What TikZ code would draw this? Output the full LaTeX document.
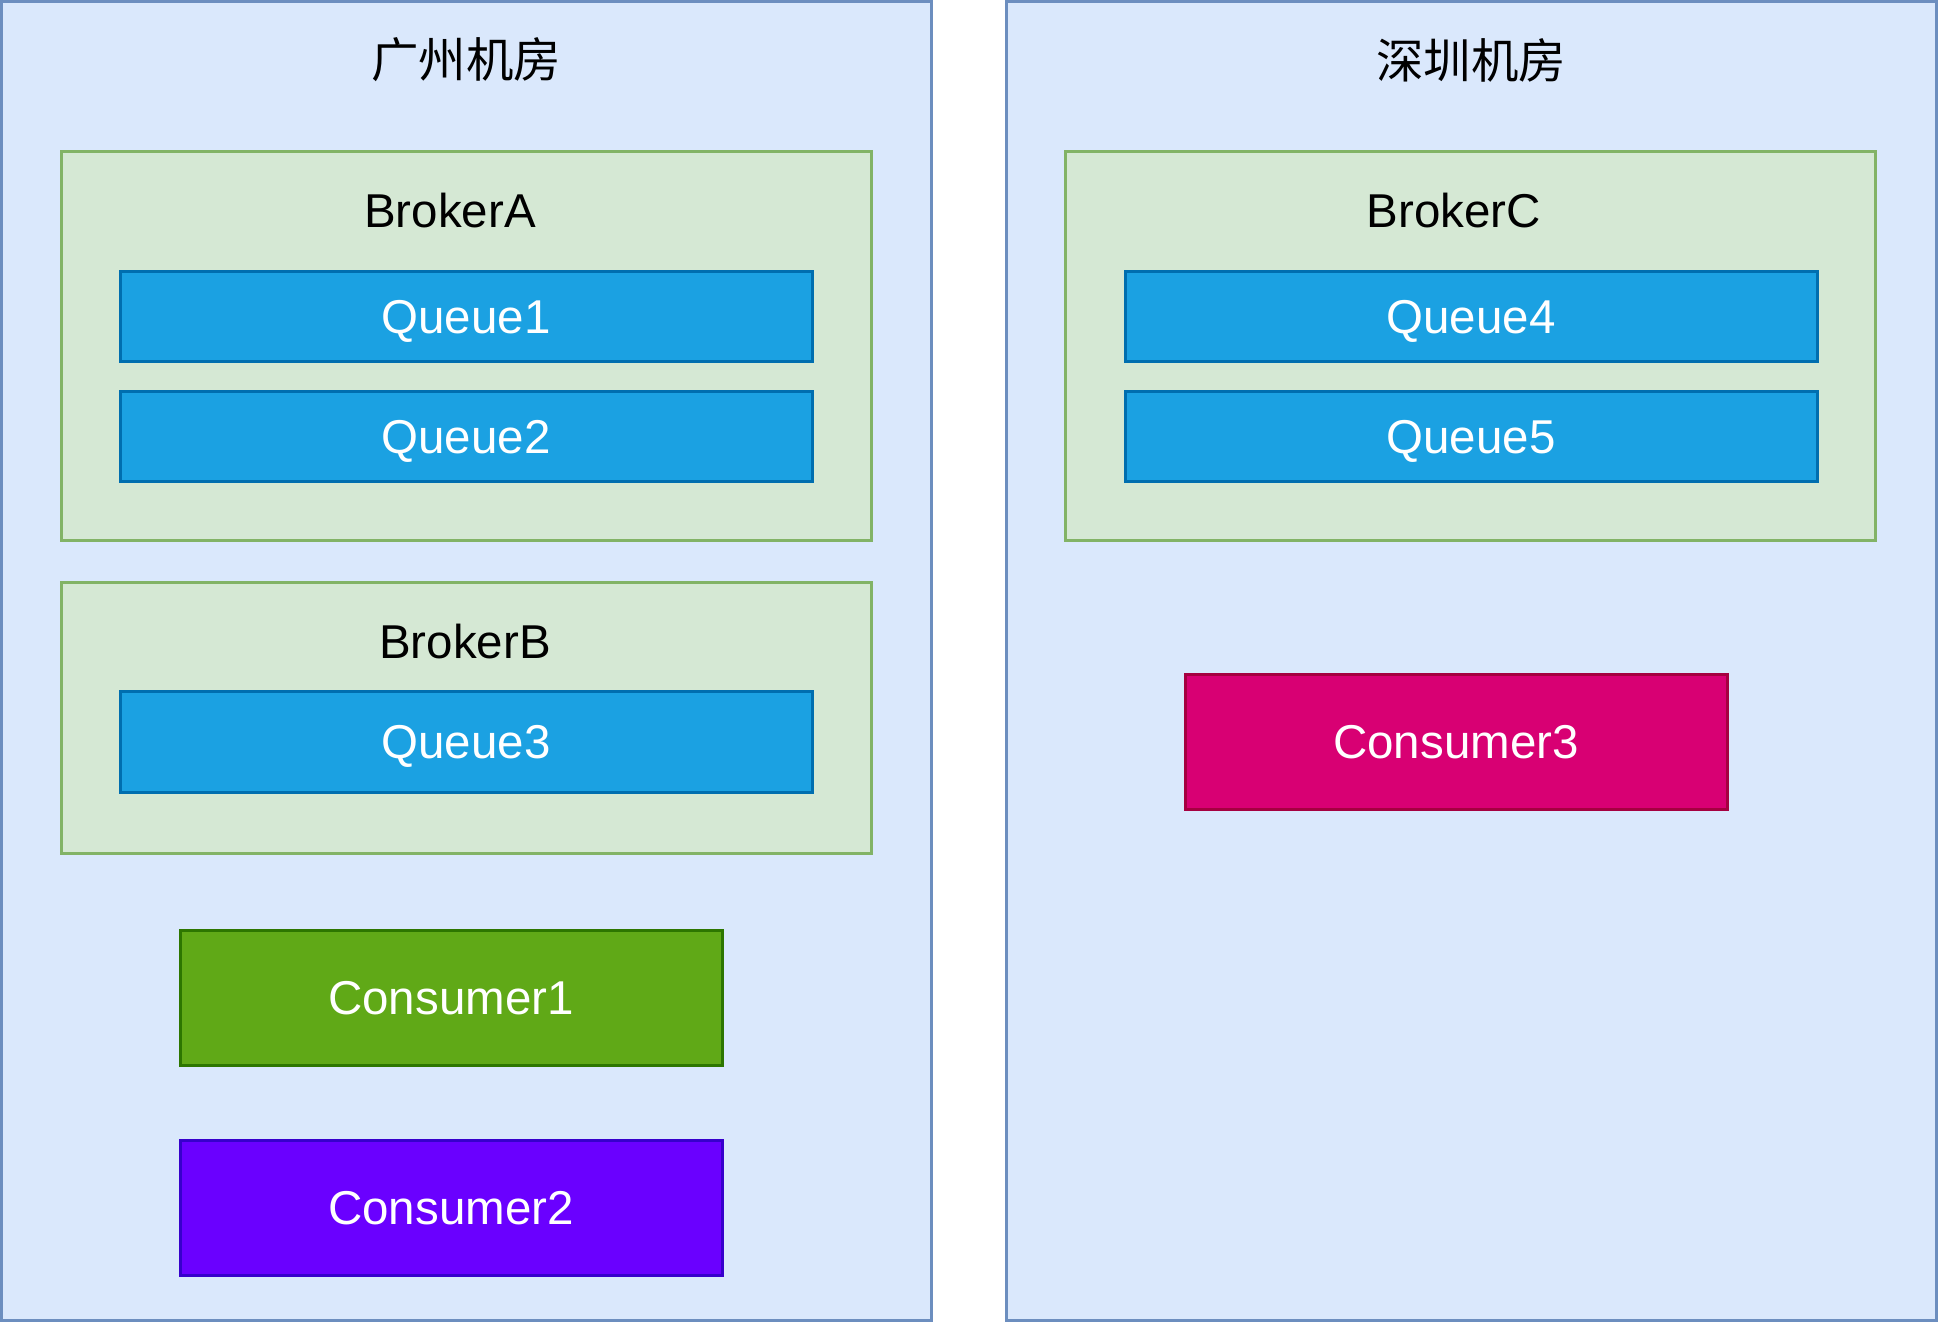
\documentclass[tikz,border=0pt]{standalone}
\usepackage{fontspec}
\setmainfont{Liberation Sans}
\newfontfamily\cjk{Noto Sans CJK SC}
\definecolor{RoomFill}{HTML}{DAE8FC}
\definecolor{RoomLine}{HTML}{6C8EBF}
\definecolor{BrokerFill}{HTML}{D5E8D4}
\definecolor{BrokerLine}{HTML}{82B366}
\definecolor{QueueFill}{HTML}{1BA1E2}
\definecolor{QueueLine}{HTML}{006EAF}
\definecolor{GreenFill}{HTML}{60A917}
\definecolor{GreenLine}{HTML}{2D7600}
\definecolor{VioletFill}{HTML}{6A00FF}
\definecolor{VioletLine}{HTML}{3700CC}
\definecolor{PinkFill}{HTML}{D80073}
\definecolor{PinkLine}{HTML}{A50040}
\usetikzlibrary{positioning}
\tikzset{mytext/.style={inner sep=0pt,font=\fontsize{47.5}{57}\selectfont}}
\tikzset{mybox/.style={rectangle,inner sep=0pt,outer sep=0pt,line width=3pt}}
\tikzset{myroom/.style={mybox,draw=RoomLine,fill=RoomFill,minimum width=930pt,minimum height=1319pt}}
\tikzset{mybroker/.style={mybox,draw=BrokerLine,fill=BrokerFill,minimum width=810pt}}
\tikzset{myqueue/.style={mybox,mytext,white,draw=QueueLine,fill=QueueFill,minimum width=692pt,text height=34pt,text depth=0pt}}
\tikzset{myconsumer/.style={mybox,mytext,white,minimum width=542pt,minimum height=135pt}}

\begin{document}
\begin{tikzpicture}[x=1pt,y=-1pt]
    \useasboundingbox (0,0) rectangle (1938,1323);
    % rooms
    \node[myroom] (gz) at (466,660.5) {};
    \node[myroom] (sz) at (1471,660.5) {};
    \node[mytext] (gztitle) at (466,60) {\cjk 广州机房};
    \node[mytext] (sztitle) at (1471,60) {\cjk 深圳机房};
    % brokers
    \node[mybroker,minimum height=389pt] (brokerA) at (466,345.5) {};
    \node[mybroker,minimum height=271pt] (brokerB) at (466,717.5) {};
    \node[mybroker,minimum height=389pt] (brokerC) at (1470.5,345.5) {};
    \node[mytext] (labelA) at (450,211) {BrokerA};
    \node[mytext] (labelB) at (465,642) {BrokerB};
    \node[mytext] (labelC) at (1454,211) {BrokerC};
    % queues
    \node[myqueue,minimum height=90pt] (q1) at (466,316) {Queue1};
    \node[myqueue,minimum height=90pt] (q2) at (466,436) {Queue2};
    \node[myqueue,minimum height=101pt] (q3) at (466,741.5) {Queue3};
    \node[myqueue,minimum height=90pt] (q4) at (1471,316) {Queue4};
    \node[myqueue,minimum height=90pt] (q5) at (1471,436) {Queue5};
    % consumers
    \node[myconsumer,draw=GreenLine,fill=GreenFill] (c1) at (451,998) {Consumer1};
    \node[myconsumer,draw=VioletLine,fill=VioletFill] (c2) at (451,1208) {Consumer2};
    \node[myconsumer,draw=PinkLine,fill=PinkFill] (c3) at (1456,742) {Consumer3};
\end{tikzpicture}
\end{document}
